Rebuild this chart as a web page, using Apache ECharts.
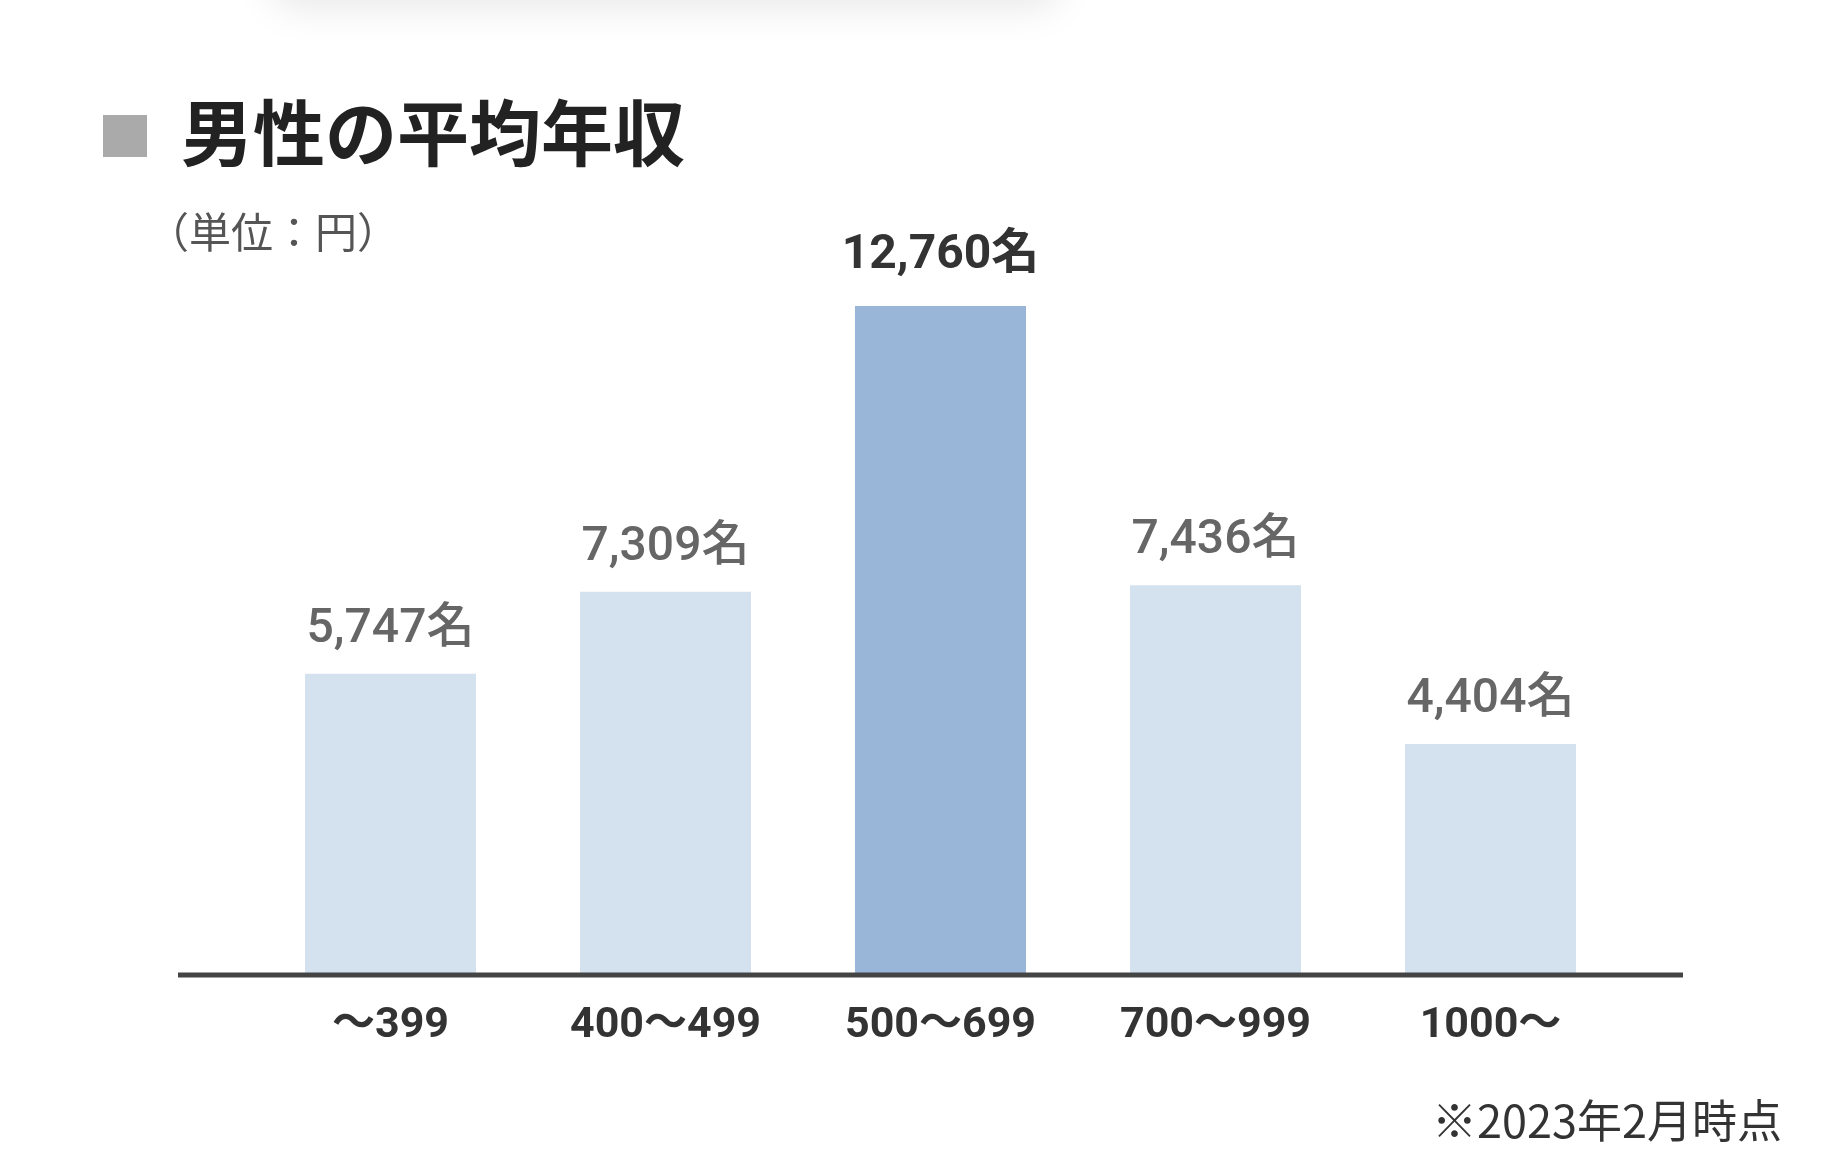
<!DOCTYPE html>
<html>
<head>
<meta charset="utf-8">
<script src="https://cdn.jsdelivr.net/npm/echarts@6/dist/echarts.min.js"></script>
<style>
html,body{margin:0;padding:0;background:#fff;}
#chart{width:1841px;height:1165px;}
</style>
</head>
<body>
<div id="chart"></div>
<script>
const categories = ['〜399', '400〜499', '500〜699', '700〜999', '1000〜'];
const counts = [5747, 7309, 12760, 7436, 4404];
const unitSuffix = '名';
const titleText = '男性の平均年収';
const unitText = '（単位：円）';
const noteText = '※2023年2月時点';
const highlightCategory = '500〜699';

const chart = echarts.init(document.getElementById('chart'));
const numFont = 'Roboto, "Noto Sans CJK JP", sans-serif';
const jpFont = '"Noto Sans CJK JP", "Noto Sans", sans-serif';

const seriesData = counts.map((v, i) => {
  const hi = categories[i] === highlightCategory;
  return {
    value: v,
    itemStyle: { color: hi ? '#99b6d8' : '#d4e1ee' },
    label: hi ? { color: '#333333', fontWeight: 'bold', distance: 26 } : { color: '#666666', fontWeight: 500 }
  };
});

chart.setOption({
  backgroundColor: '#ffffff',
  animation: false,
  title: [
    { text: titleText, left: 176, top: 92,
      textStyle: { fontFamily: jpFont, fontSize: 72, fontWeight: 'bold', color: '#222222' } },
    { text: unitText, left: 142, top: 206,
      textStyle: { fontFamily: jpFont, fontSize: 42, fontWeight: 'normal', color: '#555555' } },
    { text: noteText, right: 54, top: 1093,
      textStyle: { fontFamily: jpFont, fontSize: 45, fontWeight: 'normal', color: '#333333' } }
  ],
  grid: { left: 253, right: 213, top: 241, bottom: 190 },
  xAxis: {
    type: 'category',
    data: categories,
    axisLine: { show: false },
    axisTick: { show: false },
    axisLabel: { margin: 30, fontFamily: numFont, fontSize: 43, fontWeight: 'bold', color: '#333333' }
  },
  yAxis: {
    type: 'value', min: 0, max: 14000, show: false,
    splitLine: { show: false }
  },
  series: [{
    type: 'bar',
    data: seriesData,
    barWidth: 171,
    label: {
      show: true, position: 'top', distance: 20,
      fontFamily: numFont, fontSize: 48,
      formatter: p => p.value.toLocaleString('en-US') + unitSuffix
    }
  }],
  graphic: [
    { type: 'rect', shape: { x: 273, y: -70, width: 785, height: 70, r: 20 },
      style: { fill: '#ffffff', shadowBlur: 40, shadowColor: 'rgba(0,0,0,0.10)', shadowOffsetY: 6 }, z: 1 },
    { type: 'rect', shape: { x: 103, y: 115, width: 44, height: 42 },
      style: { fill: '#aaaaaa' }, z: 5 },
    { type: 'line', shape: { x1: 178, y1: 975, x2: 1683, y2: 975 },
      style: { stroke: '#444444', lineWidth: 5 }, z: 20 }
  ]
});
</script>
</body>
</html>
